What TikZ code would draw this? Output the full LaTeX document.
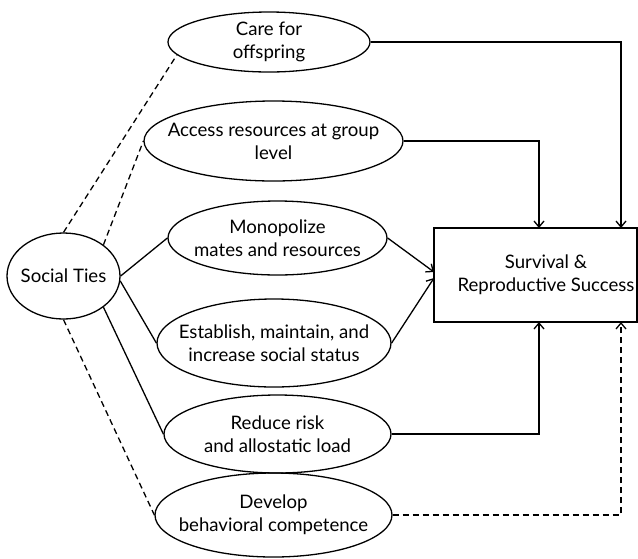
\documentclass[tikz,border=0pt]{standalone}
\usepackage{fontspec}
\setmainfont{Lato}
\usetikzlibrary{shapes.geometric,arrows.meta,calc}
\begin{document}
\begin{tikzpicture}[x=1pt,y=-1pt,
  every node/.style={font=\fontsize{18.6}{23}\selectfont},
  every label/.style={align=center,inner sep=0pt},
  oval/.style={draw,ellipse,line width=1.3pt,inner sep=0pt},
  conn/.style={line width=1.3pt},
  arr/.style={conn,-{Straight Barb[length=6pt,width=10pt,line width=1.3pt]}},
  dsh/.style={dash pattern=on 6pt off 4pt}]
\useasboundingbox (0,0) rectangle (638,558);
\node[oval,minimum width=113pt,minimum height=86pt,label=center:{Social Ties}] (social) at (63.5,276) {};
\node[oval,minimum width=202pt,minimum height=60pt,label=center:{Care for\\offspring}] (care) at (269,42) {};
\node[oval,minimum width=259pt,minimum height=80pt,label=center:{Access resources at group\\level}] (access) at (273.5,141) {};
\node[oval,minimum width=219pt,minimum height=74pt,label=center:{Monopolize\\mates and resources}] (mono) at (277.5,238) {};
\node[oval,minimum width=234pt,minimum height=88pt,label=center:{Establish, maintain, and\\increase social status}] (est) at (274,343) {};
\node[oval,minimum width=227pt,minimum height=78pt,label=center:{Reduce risk\\and allostatic load}] (red) at (277.5,434) {};
\node[oval,minimum width=237pt,minimum height=84pt,label=center:{Develop\\behavioral competence}] (dev) at (273.5,515) {};
\node[draw,line width=1.3pt,minimum width=203pt,minimum height=94pt,inner sep=0pt,label={[xshift=10.5pt]center:{Survival \&\\Reproductive Success}}] (box) at (535.5,275) {};
\coordinate (tA) at (539,228);
\coordinate (tC) at (621,228);
\coordinate (bA) at (539,322);
\coordinate (bC) at (621,322);
\coordinate (wM) at (434,272);
\coordinate (wE) at (434,278);
% from social ties
\draw[conn,dsh] (social.north) -- (care.188);
\draw[conn,dsh] (social.38) -- (access.west);
\draw[conn] (social.east) -- (mono.west);
\draw[conn] (social.-5) -- (est.west);
\draw[conn] (social.-38) -- (red.west);
\draw[conn,dsh] (social.south) -- (dev.west);
% to outcome
\draw[arr] (care.east) -| (tC);
\draw[arr] (access.east) -| (tA);
\draw[arr] (mono.east) -- (wM);
\draw[arr] (est.east) -- (wE);
\draw[arr] (red.east) -| (bA);
\draw[arr,dsh] (dev.east) -| (bC);
\end{tikzpicture}
\end{document}
